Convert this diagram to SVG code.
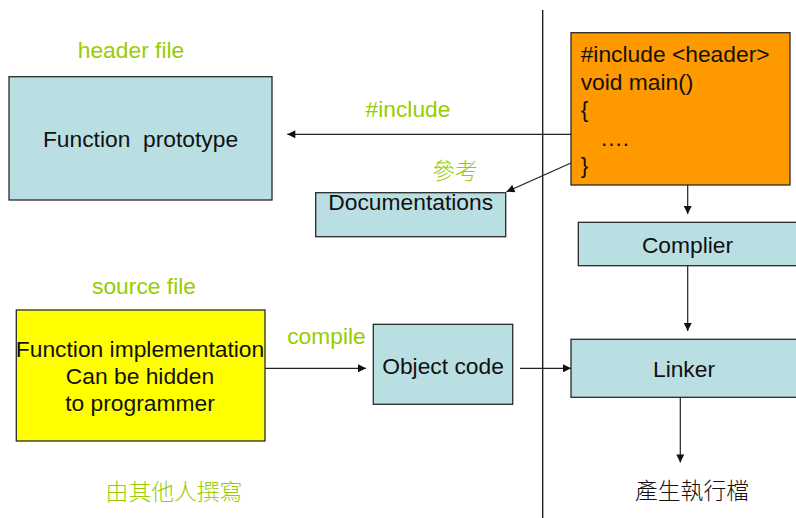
<svg xmlns="http://www.w3.org/2000/svg" width="796" height="518" viewBox="0 0 796 518">
  <defs>
    <marker id="arrow" viewBox="0 0 10 10" refX="10" refY="5" markerWidth="9" markerHeight="8" markerUnits="userSpaceOnUse" orient="auto">
      <path d="M0,0 L10,5 L0,10 Z" fill="#111"/>
    </marker>
  </defs>
  <style>
    text { font-family: "Liberation Sans", Arial, "Noto Sans CJK TC", sans-serif; font-size: 22.8px; fill: #111; }
    .note { fill: #99CC00; }
    .cjk { font-family: "Noto Sans CJK TC", sans-serif; font-weight: 300; }
    .box { stroke: #2a2a2a; stroke-width: 1.3; }
    .blue { fill: #BADFE3; }
    .edge { fill: none; stroke: #222; stroke-width: 1.2; marker-end: url(#arrow); }
  </style>
  <rect width="796" height="518" fill="#ffffff"/>

  <!-- divider between library side and program side -->
  <line x1="542.7" y1="10" x2="542.7" y2="518" stroke="#111" stroke-width="1.3"/>

  <!-- labels -->
  <text class="note" x="131" y="58" text-anchor="middle">header file</text>
  <text class="note" x="408" y="117" text-anchor="middle">#include</text>
  <text class="note cjk" x="455" y="179" text-anchor="middle" font-size="22">參考</text>
  <text class="note" x="144" y="294" text-anchor="middle">source file</text>
  <text class="note" x="326.5" y="344" text-anchor="middle">compile</text>
  <text class="note cjk" x="174" y="500" text-anchor="middle" font-size="22">由其他人撰寫</text>
  <text class="cjk" x="692" y="499" text-anchor="middle" font-size="22" fill="#222">產生執行檔</text>

  <g id="header">
    <rect class="box blue" x="9" y="76.7" width="263" height="123.3"/>
    <text x="140.5" y="146.5" text-anchor="middle" xml:space="preserve">Function  prototype</text>
  </g>

  <g id="documentations">
    <rect class="box blue" x="315.7" y="192.7" width="190" height="44" stroke="#555"/>
    <text x="410.7" y="209.5" text-anchor="middle">Documentations</text>
  </g>

  <g id="main-program">
    <rect class="box" x="571" y="32.7" width="219" height="152.3" fill="#FF9900"/>
    <text x="580.7" y="61.7" font-size="24">#include &lt;header&gt;</text>
    <text x="580.7" y="89.5" font-size="24">void main()</text>
    <text x="580.7" y="117" font-size="24">{</text>
    <text x="600" y="145.5" font-size="24">….</text>
    <text x="580.7" y="172.7" font-size="24">}</text>
  </g>

  <g id="compiler">
    <rect class="box blue" x="578.3" y="222.3" width="220" height="43.4"/>
    <text x="687.5" y="253.3" text-anchor="middle">Complier</text>
  </g>

  <g id="source">
    <rect class="box" x="16.3" y="310" width="248.7" height="131" fill="#FFFF00"/>
    <text x="140" y="357.3" text-anchor="middle">Function implementation</text>
    <text x="140" y="383.5" text-anchor="middle">Can be hidden</text>
    <text x="140" y="410.5" text-anchor="middle">to programmer</text>
  </g>

  <g id="object-code">
    <rect class="box blue" x="373.3" y="324.3" width="139.4" height="80" stroke="#444"/>
    <text x="443" y="373.5" text-anchor="middle">Object code</text>
  </g>

  <g id="linker">
    <rect class="box blue" x="571" y="339.3" width="228" height="58"/>
    <text x="684" y="376.7" text-anchor="middle">Linker</text>
  </g>

  <g id="connectors">
    <line class="edge" x1="571" y1="134.3" x2="287.3" y2="134.3" stroke="#444"/>
    <line class="edge" x1="571" y1="163" x2="506.5" y2="191.8"/>
    <line class="edge" x1="687.7" y1="185" x2="687.7" y2="214" stroke="#444"/>
    <line class="edge" x1="687.7" y1="265.7" x2="687.7" y2="331" stroke="#444"/>
    <line class="edge" x1="265" y1="368.3" x2="366" y2="368.3"/>
    <line class="edge" x1="520" y1="368.3" x2="571" y2="368.3"/>
    <line class="edge" x1="680.3" y1="397.3" x2="680.3" y2="462.5"/>
  </g>
</svg>
